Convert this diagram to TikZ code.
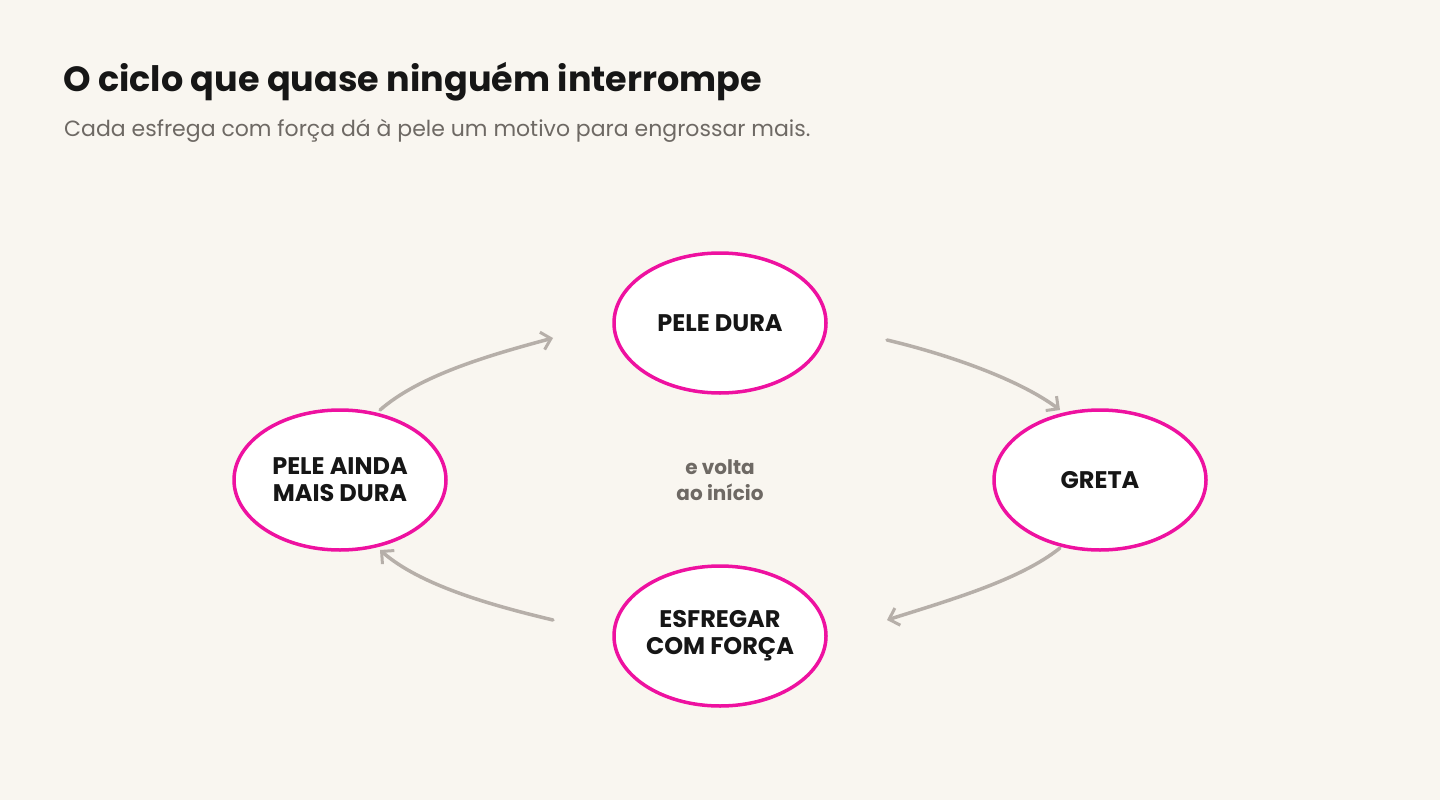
\documentclass[tikz,border=0pt]{standalone}
\usepackage{fontspec}
\setmainfont{Poppins}
\usetikzlibrary{arrows.meta,shapes.geometric}
\definecolor{bg}{HTML}{F9F6F0}
\definecolor{pink}{HTML}{EE11A0}
\definecolor{arr}{HTML}{B6AFA9}
\definecolor{ink}{HTML}{161616}
\definecolor{sub}{HTML}{6E6964}
\begin{document}
\begin{tikzpicture}[x=1pt,y=-1pt,
  cyc/.style={ellipse,draw=pink,line width=3.5pt,fill=white,minimum width=212pt,minimum height=140pt,font=\fontsize{24}{30}\selectfont\bfseries,text=ink,align=center,inner sep=0pt},
  flow/.style={draw=arr,line width=3.5pt,line cap=round,-{Straight Barb[length=9pt,width=18pt,line width=3pt]}}]
\fill[bg] (0,0) rectangle (1440,800);
\useasboundingbox (0,0) rectangle (1440,800);
\node[anchor=west,font=\fontsize{35}{40}\selectfont\bfseries,text=ink,inner sep=0pt] (title) at (63,82) {O ciclo que quase ninguém interrompe};
\node[anchor=west,font=\fontsize{22}{26}\selectfont,text=sub,inner sep=0pt] (subt) at (64,131) {Cada esfrega com força dá à pele um motivo para engrossar mais.};
\node[cyc] (a) at (720,323) {PELE DURA};
\node[cyc] (b) at (1100,480) {GRETA};
\node[cyc] (c) at (720,636) {ESFREGAR\\[-3pt]COM FORÇA};
\node[cyc] (d) at (340,480) {PELE AINDA\\[-3pt]MAIS DURA};
\node[font=\fontsize{20}{26}\selectfont\bfseries,text=sub,align=center] (mid) at (720,480) {e volta\\ao início};
\coordinate (d1) at (380,410); \coordinate (a1) at (553,338);
\coordinate (a2) at (887,340); \coordinate (b1) at (1060,410);
\coordinate (b2) at (1060,548); \coordinate (c1) at (887,620);
\coordinate (c2) at (553,620); \coordinate (d2) at (380,550);
\draw[flow] (d1) .. controls (420,375) and (490,355) .. (a1);
\draw[flow] (a2) .. controls (950,355) and (1020,380) .. (b1);
\draw[flow] (b2) .. controls (1020,580) and (950,600) .. (c1);
\draw[flow] (c2) .. controls (490,605) and (420,585) .. (d2);
\end{tikzpicture}
\end{document}
